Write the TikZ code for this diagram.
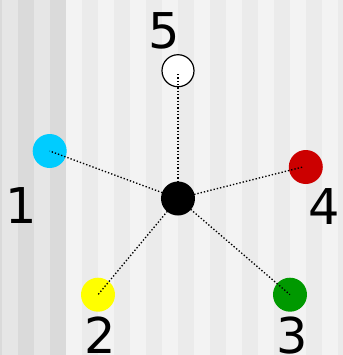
\documentclass[tikz,border=0pt]{standalone}
\usepackage{fontspec}
\setmainfont{DejaVu Sans}
\definecolor{bgA}{HTML}{E6E6E6}
\definecolor{bgB}{HTML}{DADADA}
\definecolor{bgC}{HTML}{F3F3F3}
\definecolor{bgD}{HTML}{EBEBEB}
\definecolor{cyanpt}{HTML}{00CCFF}
\definecolor{redpt}{HTML}{CC0000}
\definecolor{yellowpt}{HTML}{FFFF00}
\definecolor{greenpt}{HTML}{009900}
\tikzset{
  dot/.style={circle,inner sep=0pt,minimum size=34*0.75pt},
  lbl/.style={anchor=base,inner sep=0pt,font=\fontsize{37}{40}\selectfont},
  link/.style={line width=1pt,dash pattern=on 1pt off 1.5pt},
}
\begin{document}
\begin{tikzpicture}[x=0.75pt,y=-0.75pt]
\useasboundingbox (0,0) rectangle (343,355);
% background stripes
\fill[bgB] (0,0) rectangle (2,355);
\fill[bgA] (2,0) rectangle (18,355);
\fill[bgB] (18,0) rectangle (34,355);
\fill[bgA] (34,0) rectangle (50,355);
\fill[bgB] (50,0) rectangle (66,355);
\foreach \i in {0,...,17}{
  \pgfmathtruncatemacro{\r}{mod(\i,2)}
  \ifnum\r=0 \fill[bgC] (66+16*\i,0) rectangle (82+16*\i,355);
  \else \fill[bgD] (66+16*\i,0) rectangle (82+16*\i,355); \fi
}
% outer points
\node[dot,fill=white,draw=black,line width=0.9pt,minimum size=32*0.75pt] (n5) at (178,70.7) {};
\node[dot,fill=cyanpt] (n1) at (49.7,151) {};
\node[dot,fill=redpt] (n4) at (305.8,167) {};
\node[dot,fill=yellowpt] (n2) at (98,294.7) {};
\node[dot,fill=greenpt] (n3) at (290,294.7) {};
% links
\coordinate (c) at (178,198.5);
\draw[link] (c) -- ([yshift=-3*0.75pt]n5.center);
\draw[link] (c) -- (n1.center);
\draw[link] (c) -- ([xshift=-3*0.75pt]n4.center);
\draw[link] (c) -- (n2.center);
\draw[link] (c) -- (n3.center);
% centre
\node[dot,fill=black] (n0) at (c) {};
% labels
\node[lbl] (l5) at (164,48.3) {5};
\node[lbl] (l1) at (21,223.3) {1};
\node[lbl] (l4) at (323.7,224.3) {4};
\node[lbl] (l2) at (100,353.3) {2};
\node[lbl] (l3) at (292,353.3) {3};
\end{tikzpicture}
\end{document}
